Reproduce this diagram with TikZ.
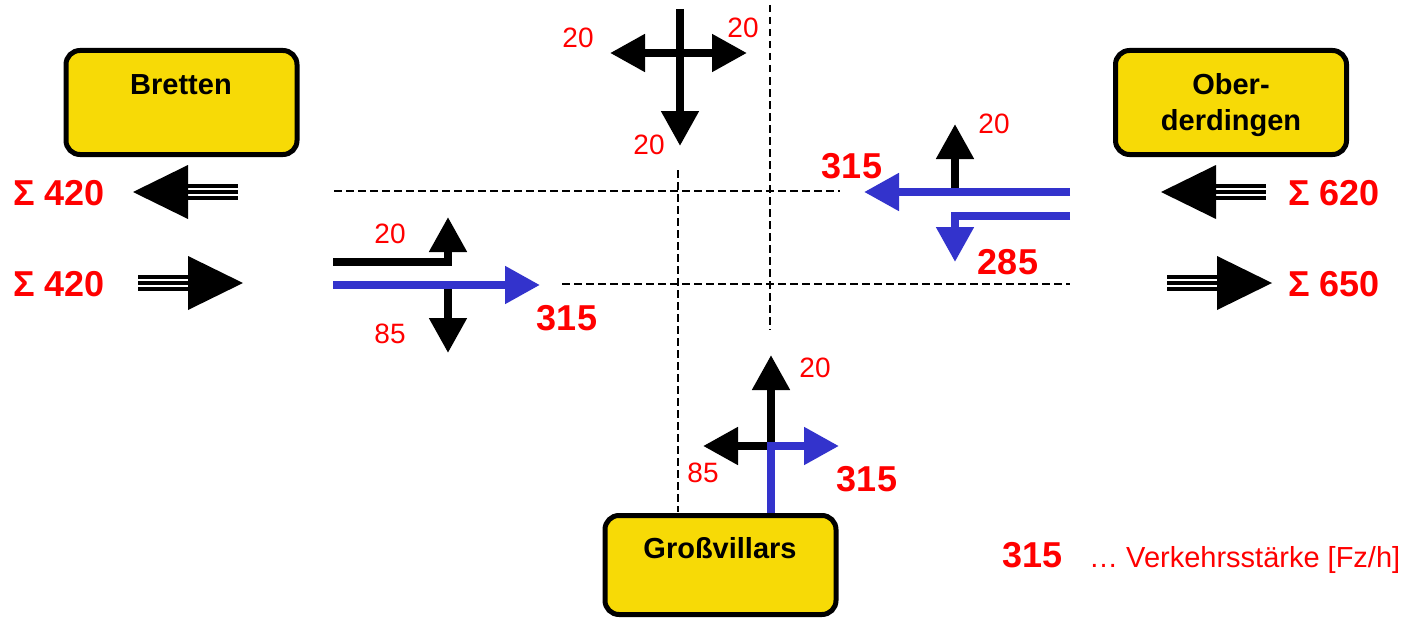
\documentclass[tikz,border=0pt]{standalone}
\usepackage{fontspec}
\setmainfont{Liberation Sans}
\usetikzlibrary{arrows.meta}
\definecolor{sred}{HTML}{FF0000}
\definecolor{sblue}{HTML}{3333CC}
\definecolor{syellow}{HTML}{F7DA06}
\begin{document}
\begin{tikzpicture}[x=1pt,y=-1pt,
  box/.style={draw=black, line width=5pt, fill=syellow, rounded corners=14pt,
    minimum width=231pt, minimum height=104pt, inner sep=0pt},
  boxtext/.style={font=\fontsize{29}{35}\selectfont\bfseries, align=center, inner sep=0pt, anchor=base},
  biglabel/.style={text=sred, font=\fontsize{36}{40}\selectfont\bfseries, inner sep=0pt},
  smalllabel/.style={text=sred, font=\fontsize{28}{32}\selectfont, inner sep=0pt},
  guide/.style={draw=black, line width=1.5pt, dash pattern=on 7.5pt off 4.5pt},
  flow/.style={line width=8pt, line join=miter, -{Triangle[length=35pt,width=36pt]}},
  bflow/.style={flow, draw=sblue, color=sblue},
  triplearrow/.pic={
    \fill[black] (0,0) -- (55,-27) -- (55,27) -- cycle;
    \foreach \o in {-6,0,6} \draw[line width=4pt] (54,\o) -- (105,\o);
  }]
\useasboundingbox (0,0) rectangle (1408,618);

% guide lines
\draw[guide] (334,191) -- (840,191);
\draw[guide] (562,284) -- (1070,284);
\draw[guide] (678,170) -- (678,512);
\draw[guide] (770,5) -- (770,330);

% boxes
\node[box] (bretten) at (181.5,102.5) {};
\node[boxtext] (brettent) at (181,95) {Bretten};
\node[box] (ober) at (1231,102.5) {};
\node[boxtext] (obert1) at (1231,95) {Ober-};
\node[boxtext] (obert2) at (1231,130) {derdingen};
\node[box, minimum height=99pt] (gross) at (720.5,565) {};
\node[boxtext] (grosst) at (720,558) {Großvillars};

% triple arrows
\pic at (133,192) {triplearrow};
\pic[xscale=-1] at (243,283) {triplearrow};
\pic at (1161,192) {triplearrow};
\pic[xscale=-1] at (1272,283) {triplearrow};

\node[biglabel] (s1) at (59,193) {Σ 420};
\node[biglabel] (s2) at (59,284) {Σ 420};
\node[biglabel] (s3) at (1334,193) {Σ 620};
\node[biglabel] (s4) at (1334,284) {Σ 650};

% west approach (Bretten)
\coordinate (wA) at (333,262);
\coordinate (wB) at (448,262);
\coordinate (wC) at (448,217);
\draw[flow] (wA) -- (wB) -- (wC);
\coordinate (wD) at (448,285);
\coordinate (wE) at (448,353);
\draw[flow] (wD) -- (wE);
\coordinate (wF) at (333,285);
\coordinate (wG) at (540,285);
\draw[bflow] (wF) -- (wG);
\node[smalllabel] (w20) at (390,234) {20};
\node[smalllabel] (w85) at (390,334) {85};
\node[biglabel] (w315) at (567,318) {315};

% north approach
\coordinate (nA) at (680,9);
\coordinate (nB) at (680,146);
\coordinate (nC) at (680,53);
\coordinate (nL) at (610,53);
\coordinate (nR) at (747,53);
\draw[flow] (nA) -- (nB);
\draw[flow] (nC) -- (nL);
\draw[flow] (nC) -- (nR);
\node[smalllabel] (n20a) at (578,38) {20};
\node[smalllabel] (n20b) at (743,28) {20};
\node[smalllabel] (n20c) at (649,145) {20};

% east approach (Oberderdingen)
\coordinate (eA) at (1070,192);
\coordinate (eB) at (864,192);
\coordinate (eC) at (955,192);
\coordinate (eD) at (955,124);
\coordinate (eE) at (1070,216);
\coordinate (eF) at (955,216);
\coordinate (eG) at (955,262);
\draw[flow] (eC) -- (eD);
\draw[bflow] (eA) -- (eB);
\draw[bflow] (eE) -- (eF) -- (eG);
\node[biglabel] (e315) at (852,166) {315};
\node[smalllabel] (e20) at (994,124) {20};
\node[biglabel] (e285) at (1008,262) {285};

% south approach (Großvillars)
\coordinate (sA) at (771,446);
\coordinate (sB) at (771,355);
\coordinate (sC) at (703,446);
\coordinate (sD) at (839,446);
\draw[flow] (sA) -- (sB);
\draw[flow] (sA) -- (sC);
\draw[bflow] (gross.north -| sA) -- (sA) -- (sD);
\node[smalllabel] (s20) at (815,368) {20};
\node[smalllabel] (s85) at (703,473) {85};
\node[biglabel] (s315) at (867,479) {315};

% legend
\node[biglabel, anchor=base west] (leg1) at (1002,567) {315};
\node[smalllabel, anchor=base west, font=\fontsize{29}{32}\selectfont] (leg2) at (1089,567) {… Verkehrsstärke [Fz/h]};
\end{tikzpicture}
\end{document}
